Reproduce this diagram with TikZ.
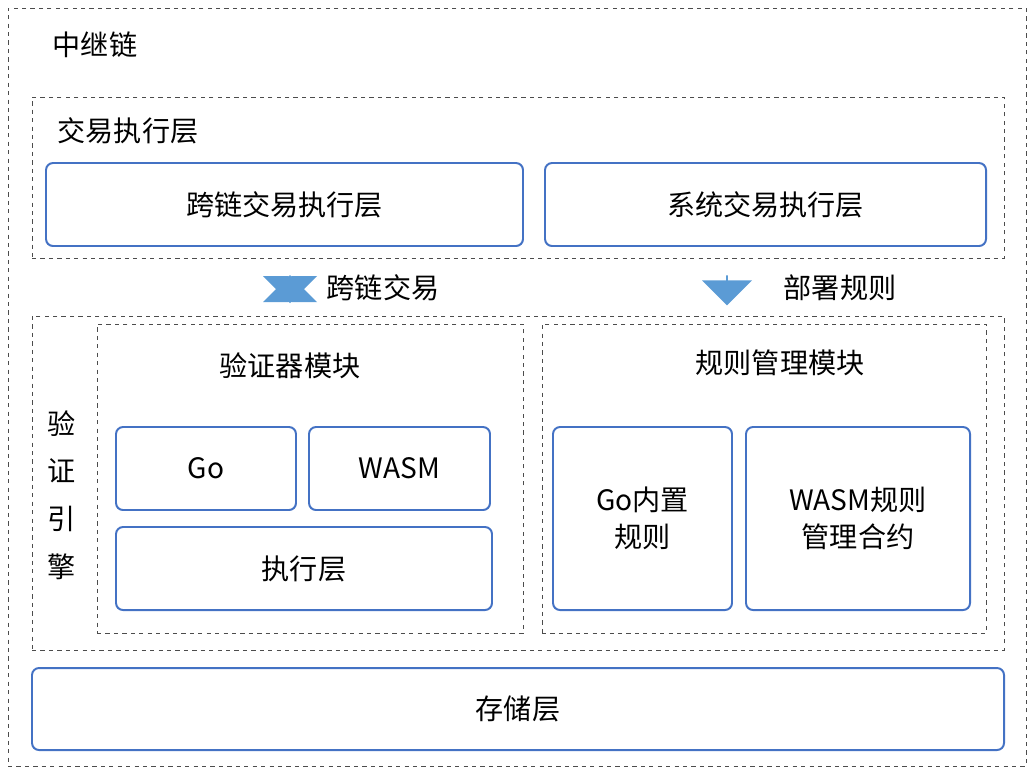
\documentclass[tikz,border=0pt]{standalone}
\usepackage{fontspec}
\setmainfont{Noto Sans CJK SC}
\usetikzlibrary{shapes.arrows}
\definecolor{frame}{HTML}{4472C4}
\definecolor{arrowfill}{HTML}{5B9BD5}
\tikzset{
  px/.style 2 args={minimum width=#1*0.025cm, minimum height=#2*0.025cm},
  box/.style={draw=frame, line width=1.4pt, rounded corners=5pt, inner sep=0pt, font=\fontsize{20}{26}\selectfont, align=center},
  group/.style={draw=black!70, dashed, line width=0.6pt, inner sep=0pt},
  title/.style={font=\fontsize{20}{26}\selectfont, inner sep=0pt},
  arr/.style={fill=arrowfill, draw=none, inner sep=0pt}
}
\begin{document}
\begin{tikzpicture}[x=0.025cm, y=-0.025cm]
\useasboundingbox (0,0) rectangle (1036,772);
% frames
\node[group, px={1018}{758}] (relay) at (517,387) {};
\node[title] (relaylbl) at (95,45) {中继链};
\node[group, px={972}{161}] (txlayer) at (518,177.5) {};
\node[title] (txlbl) at (128,131) {交易执行层};
\node[box, px={477}{83}] (cctx) at (284.5,204.5) {跨链交易执行层};
\node[box, px={441}{83}] (systx) at (765.5,204.5) {系统交易执行层};
% arrows
\node[arr, double arrow, shape border rotate=90, px={54}{28}, double arrow head extend=3pt] (updown) at (290,289) {};
\node[title, right=4pt] (cclbl) at (updown.east |- 0,288) {};
\node[title] at (383,288) {跨链交易};
\node[arr, single arrow, shape border rotate=270, px={50}{30}, single arrow head extend=6pt] (down) at (727,290) {};
\node[title] (deploylbl) at (840,288) {部署规则};
% verification engine
\node[group, px={972}{334}] (engine) at (518,483) {};
\node[title, align=center, font=\fontsize{20}{34}\selectfont] (enginelbl) at (62,495) {验\\证\\引\\擎};
\node[group, px={426}{309}] (verifier) at (310,478.5) {};
\node[title] (verlbl) at (290,366) {验证器模块};
\node[box, px={180}{83}] (go) at (206,468.5) {Go};
\node[box, px={181}{83}] (wasm) at (399.5,468.5) {WASM};
\node[box, px={376}{83}] (exec) at (304,568.5) {执行层};
\node[group, px={444}{309}] (rules) at (764,478.5) {};
\node[title] (rulelbl) at (780,363) {规则管理模块};
\node[box, px={179}{183}] (gorule) at (642.5,518.5) {Go内置\\规则};
\node[box, px={224}{183}] (wasmrule) at (858,518.5) {WASM规则\\管理合约};
% storage
\node[box, px={972}{82}] (storage) at (518,709) {存储层};
\end{tikzpicture}
\end{document}
